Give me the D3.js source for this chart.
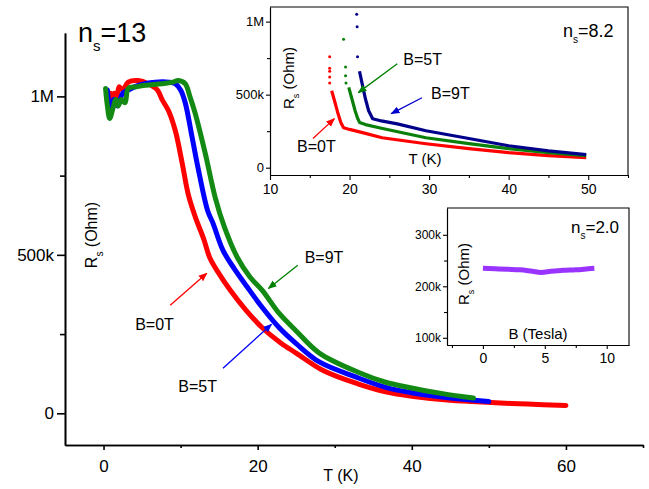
<!DOCTYPE html>
<html>
<head>
<meta charset="utf-8">
<script src="https://cdn.jsdelivr.net/npm/d3@7"></script>
<style>
  body { margin: 0; background: #fff; }
  svg { display: block; font-family: "Liberation Sans", Arial, sans-serif; }
</style>
</head>
<body>
<svg id="chart" width="649" height="489"></svg>
<script>
// ---- main panel data (n_s = 13), T in K, R in MOhm ----
var mainRedT = [0.9, 1.1, 1.4, 1.7, 2.0, 2.5, 3.2, 4.5, 5.8, 7.0, 7.6, 8.4, 9.3, 10.2, 11.0, 11.9, 13.0, 13.8, 15.0, 16.4, 18.5, 20.6, 23.0, 25.0, 28.5, 33.0, 36.6, 40.0, 45.0, 50.3, 55.0, 60.0];
var mainRedR = [1.01, 0.96, 1.01, 0.98, 1.03, 1.02, 1.045, 1.05, 1.04, 1.02, 0.99, 0.956, 0.893, 0.79, 0.69, 0.62, 0.55, 0.49, 0.44, 0.39, 0.325, 0.27, 0.222, 0.19, 0.135, 0.093, 0.068, 0.054, 0.041, 0.034, 0.029, 0.025];

var mainBlueT = [0.5, 0.9, 1.3, 1.8, 2.5, 3.2, 4.5, 6.7, 8.5, 9.3, 10.0, 10.6, 11.5, 12.3, 13.5, 14.2, 15.5, 17.0, 18.6, 20.6, 22.8, 25.0, 28.0, 32.8, 36.6, 40.0, 45.0, 50.0];
var mainBlueR = [1.02, 0.955, 0.99, 0.97, 1.01, 1.02, 1.035, 1.045, 1.045, 1.04, 1.02, 0.98, 0.87, 0.77, 0.64, 0.60, 0.514, 0.455, 0.40, 0.334, 0.27, 0.22, 0.162, 0.114, 0.082, 0.065, 0.048, 0.037];

var mainGreenT = [0.26, 0.5, 0.8, 1.2, 1.6, 1.9, 2.3, 2.8, 3.2, 4.2, 5.4, 7.6, 9.0, 9.7, 10.6, 11.2, 11.9, 13.2, 14.5, 15.7, 17.4, 19.0, 20.6, 22.8, 25.0, 28.0, 33.2, 36.6, 40.0, 44.0, 48.0];
var mainGreenR = [1.025, 0.97, 0.93, 0.96, 0.99, 0.97, 0.99, 0.98, 1.025, 1.03, 1.035, 1.04, 1.045, 1.05, 1.04, 1.0, 0.946, 0.82, 0.68, 0.587, 0.49, 0.43, 0.388, 0.315, 0.26, 0.19, 0.128, 0.098, 0.08, 0.062, 0.048];

var mainXTicks = [0, 20, 40, 60];
var mainXMinor = [10, 30, 50, 70];
var mainYTicks = [0, 0.5, 1.0];
var mainYLabels = ["0", "500k", "1M"];
var mainYMinor = [0.25, 0.75];

// ---- inset 1 data (n_s = 8.2) ----
var in1RedDotT = [17.5, 17.5, 17.5, 17.5, 17.5];
var in1RedDotR = [0.76, 0.68, 0.66, 0.62, 0.58];
var in1RedT = [17.75, 18.1, 18.5, 18.9, 19.25, 20.0, 22.0, 24.1, 29.6, 35.0, 40.0, 45.0, 49.75];
var in1RedR = [0.527, 0.46, 0.38, 0.31, 0.274, 0.262, 0.235, 0.205, 0.164, 0.13, 0.103, 0.083, 0.068];

var in1GreenDotT = [19.25, 19.5, 19.5, 19.55];
var in1GreenDotR = [0.88, 0.69, 0.63, 0.58];
var in1GreenT = [19.9, 20.3, 20.7, 21.0, 21.25, 22.0, 24.0, 29.6, 35.0, 40.0, 45.0, 49.75];
var in1GreenR = [0.55, 0.47, 0.39, 0.34, 0.31, 0.295, 0.27, 0.205, 0.165, 0.13, 0.103, 0.082];

var in1BlueDotT = [20.9, 20.95, 21.0];
var in1BlueDotR = [1.05, 0.965, 0.76];
var in1BlueT = [21.25, 21.6, 22.0, 22.4, 22.9, 24.0, 26.0, 29.6, 35.0, 40.0, 45.0, 49.75];
var in1BlueR = [0.66, 0.57, 0.47, 0.39, 0.335, 0.32, 0.3, 0.253, 0.2, 0.15, 0.115, 0.089];

var in1XTicks = [10, 20, 30, 40, 50];
var in1XMinor = [15, 25, 35, 45, 55];
var in1YTicks = [0, 0.5, 1.0];
var in1YLabels = ["0", "500k", "1M"];
var in1YMinor = [0.25, 0.75];

// ---- inset 2 data (n_s = 2.0), B in Tesla, R in kOhm ----
var in2B = [0, 1, 2, 3, 4, 4.7, 5.5, 6.5, 7.5, 8.5, 9];
var in2R = [235, 234, 233, 232, 229, 227, 229, 231, 232, 234, 235];
var in2XTicks = [0, 5, 10];
var in2XMinor = [-2.5, 2.5, 7.5];
var in2YTicks = [100, 200, 300];
var in2YMinor = [150, 250];

// annotations in data units
var mainNotes = [
  { text: "B=0T", color: "#ff0000", lx: 4.1, ly: 0.262, x1: 8.65, y1: 0.341, x2: 13.4, y2: 0.442 },
  { text: "B=5T", color: "#0000ff", lx: 9.7, ly: 0.066, x1: 15.5, y1: 0.142, x2: 21.8, y2: 0.281 },
  { text: "B=9T", color: "#008000", lx: 26.1, ly: 0.473, x1: 25.2, y1: 0.467, x2: 21.4, y2: 0.394 }
];
var in1Notes = [
  { text: "B=0T", color: "#ff0000", lx: 13.4, ly: 0.11, x1: 15.4, y1: 0.2, x2: 18.1, y2: 0.336 },
  { text: "B=5T", color: "#008000", lx: 26.75, ly: 0.705, x1: 26.0, y1: 0.712, x2: 21.1, y2: 0.514 },
  { text: "B=9T", color: "#0000cc", lx: 30.25, ly: 0.47, x1: 29.1, y1: 0.479, x2: 25.25, y2: 0.37 }
];

var svg = d3.select("#chart");
var defs = svg.append("defs");

function marker(id, color) {
  defs.append("marker")
    .attr("id", id)
    .attr("viewBox", "0 0 10 10")
    .attr("refX", 9).attr("refY", 5)
    .attr("markerWidth", 9).attr("markerHeight", 9)
    .attr("markerUnits", "userSpaceOnUse")
    .attr("orient", "auto")
    .append("path").attr("d", "M0,1 L10,5 L0,9 Z").attr("fill", color);
}

function zip(a, b) {
  return a.map(function(v, i) { return [v, b[i]]; });
}

// draws axes with major + minor ticks, optional box
function drawAxes(g, x, y, o) {
  var xr = x.range(), yr = y.range();
  var xa = g.append("g").attr("transform", "translate(0," + yr[0] + ")")
    .call(d3.axisBottom(x).tickValues(o.xTicks).tickSize(o.xTickLen).tickPadding(o.xPad).tickSizeOuter(0));
  g.append("g").attr("transform", "translate(0," + yr[0] + ")")
    .call(d3.axisBottom(x).tickValues(o.xMinor).tickSize(o.xMinorLen).tickFormat("").tickSizeOuter(0));
  var ya = g.append("g").attr("transform", "translate(" + xr[0] + ",0)")
    .call(d3.axisLeft(y).tickValues(o.yTicks).tickSize(o.yTickLen).tickPadding(o.yPad).tickSizeOuter(0)
      .tickFormat(function(d, i) { return o.yLabels[i]; }));
  g.append("g").attr("transform", "translate(" + xr[0] + ",0)")
    .call(d3.axisLeft(y).tickValues(o.yMinor).tickSize(o.yMinorLen).tickFormat("").tickSizeOuter(0));
  xa.selectAll("text").style("font-size", o.xFont + "px").attr("fill", "#000");
  ya.selectAll("text").style("font-size", o.yFont + "px").attr("fill", "#000");
  g.selectAll(".domain, .tick line").attr("stroke", "#000").attr("stroke-width", o.lw);
  if (o.box) {
    g.append("path")
      .attr("d", "M" + xr[0] + "," + yr[1] + "H" + xr[1] + "V" + yr[0])
      .attr("fill", "none").attr("stroke", "#000").attr("stroke-width", o.lw);
  }
}

function subLabel(g, x, y, size, subSize, main, sub, rest, rotate) {
  var t = g.append("text").attr("x", x).attr("y", y).style("font-size", size + "px").attr("fill", "#000");
  if (rotate) t.attr("transform", "rotate(-90," + x + "," + y + ")").attr("text-anchor", "middle");
  t.append("tspan").text(main);
  t.append("tspan").attr("dy", size * 0.35).style("font-size", subSize + "px").text(sub);
  t.append("tspan").attr("dy", -size * 0.35).text(rest);
  return t;
}

function drawNotes(g, x, y, notes, size, prefix) {
  notes.forEach(function(n, i) {
    var id = prefix + i;
    marker(id, n.color);
    g.append("line")
      .attr("x1", x(n.x1)).attr("y1", y(n.y1))
      .attr("x2", x(n.x2)).attr("y2", y(n.y2))
      .attr("stroke", n.color).attr("stroke-width", 1.3)
      .attr("marker-end", "url(#" + id + ")");
    g.append("text").attr("x", x(n.lx)).attr("y", y(n.ly))
      .style("font-size", size + "px").attr("fill", "#000").text(n.text);
  });
}

// ================= main panel =================
var mx = d3.scaleLinear().domain([-5, 70]).range([65, 643]);
var my = d3.scaleLinear().domain([-0.1, 1.2]).range([445, 33]);
var main = svg.append("g");

drawAxes(main, mx, my, {
  xTicks: mainXTicks, xMinor: mainXMinor, xTickLen: 5, xMinorLen: 3, xPad: 10, xFont: 17,
  yTicks: mainYTicks, yLabels: mainYLabels, yMinor: mainYMinor, yTickLen: 8, yMinorLen: 5, yPad: 3, yFont: 17,
  lw: 1.6, box: false
});

var mline = d3.line().x(function(d) { return mx(d[0]); }).y(function(d) { return my(d[1]); })
  .curve(d3.curveCatmullRom.alpha(0.5));

[[mainRedT, mainRedR, "#ff0000"], [mainBlueT, mainBlueR, "#0000ff"], [mainGreenT, mainGreenR, "#138a13"]]
  .forEach(function(s) {
    main.append("path").datum(zip(s[0], s[1])).attr("d", mline)
      .attr("fill", "none").attr("stroke", s[2]).attr("stroke-width", 5)
      .attr("stroke-linecap", "round").attr("stroke-linejoin", "round");
  });

drawNotes(main, mx, my, mainNotes, 16, "am");

subLabel(main, 78, 42, 27, 15, "n", "s", "=13", false);
main.append("text").attr("x", 341).attr("y", 481).attr("text-anchor", "middle")
  .style("font-size", "16px").text("T (K)");
subLabel(main, 97, 235, 16, 10, "R", "s", " (Ohm)", true);

// ================= inset 1 =================
var ax = d3.scaleLinear().domain([10, 55]).range([270, 628]);
var ay = d3.scaleLinear().domain([-0.05, 1.1]).range([175, 7]);
var in1 = svg.append("g");
in1.append("rect").attr("x", 270).attr("y", 7).attr("width", 358).attr("height", 168).attr("fill", "#fff");

drawAxes(in1, ax, ay, {
  xTicks: in1XTicks, xMinor: in1XMinor, xTickLen: 5, xMinorLen: 3, xPad: 4, xFont: 14,
  yTicks: in1YTicks, yLabels: in1YLabels, yMinor: in1YMinor, yTickLen: 4, yMinorLen: 3, yPad: 2, yFont: 13,
  lw: 1.1, box: true
});

var aline = d3.line().x(function(d) { return ax(d[0]); }).y(function(d) { return ay(d[1]); });

[[in1RedT, in1RedR, in1RedDotT, in1RedDotR, "#ff0000"],
 [in1GreenT, in1GreenR, in1GreenDotT, in1GreenDotR, "#0a800a"],
 [in1BlueT, in1BlueR, in1BlueDotT, in1BlueDotR, "#00008b"]].forEach(function(s) {
  in1.append("path").datum(zip(s[0], s[1])).attr("d", aline)
    .attr("fill", "none").attr("stroke", s[4]).attr("stroke-width", 3.2)
    .attr("stroke-linejoin", "round");
  in1.selectAll(null).data(zip(s[2], s[3])).enter().append("circle")
    .attr("cx", function(d) { return ax(d[0]); }).attr("cy", function(d) { return ay(d[1]); })
    .attr("r", 1.5).attr("fill", s[4]);
});

drawNotes(in1, ax, ay, in1Notes, 16, "a1");

subLabel(in1, 563, 37, 18, 10, "n", "s", "=8.2", false);
in1.append("text").attr("x", 425).attr("y", 164).attr("text-anchor", "middle")
  .style("font-size", "15px").text("T (K)");
subLabel(in1, 294, 78, 15, 9, "R", "s", " (Ohm)", true);

// ================= inset 2 =================
var bx = d3.scaleLinear().domain([-2.9, 11.8]).range([447, 629]);
var by = d3.scaleLinear().domain([86, 352]).range([345, 208]);
var in2 = svg.append("g");
in2.append("rect").attr("x", 447).attr("y", 208).attr("width", 182).attr("height", 137).attr("fill", "#fff");

drawAxes(in2, bx, by, {
  xTicks: in2XTicks, xMinor: in2XMinor, xTickLen: 4, xMinorLen: 3, xPad: 4, xFont: 14,
  yTicks: in2YTicks, yLabels: ["100k", "200k", "300k"], yMinor: in2YMinor, yTickLen: 4, yMinorLen: 3, yPad: 2, yFont: 12,
  lw: 1.1, box: true
});

var bline = d3.line().x(function(d) { return bx(d[0]); }).y(function(d) { return by(d[1]); })
  .curve(d3.curveMonotoneX);
in2.append("path").datum(zip(in2B, in2R)).attr("d", bline)
  .attr("fill", "none").attr("stroke", "#9933ff").attr("stroke-width", 5);

subLabel(in2, 571, 233, 17, 10, "n", "s", "=2.0", false);
in2.append("text").attr("x", 538).attr("y", 339).attr("text-anchor", "middle")
  .style("font-size", "15px").text("B (Tesla)");
subLabel(in2, 469, 274, 15, 9, "R", "s", " (Ohm)", true);
</script>
</body>
</html>
